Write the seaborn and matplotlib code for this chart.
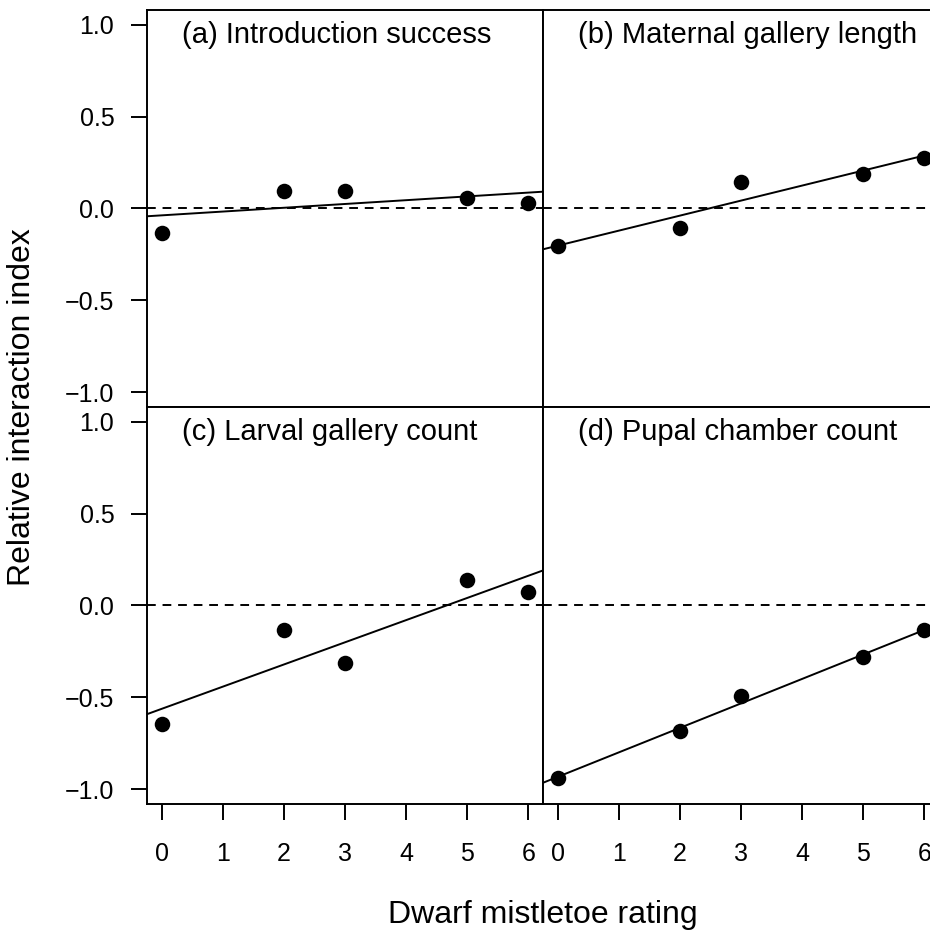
import numpy as np
import pandas as pd
import matplotlib
matplotlib.use("Agg")
import matplotlib.pyplot as plt
import seaborn as sns

# Dwarf mistletoe rating of the host trees
ratings = [0, 2, 3, 5, 6]

# Relative interaction index for each response
intro_success = [-0.132, 0.096, 0.094, 0.056, 0.029]
maternal_gallery = [-0.205, -0.105, 0.143, 0.186, 0.277]
larval_gallery = [-0.647, -0.136, -0.312, 0.141, 0.072]
pupal_chamber = [-0.940, -0.683, -0.490, -0.283, -0.135]

panel_titles = [
    "(a) Introduction success",
    "(b) Maternal gallery length",
    "(c) Larval gallery count",
    "(d) Pupal chamber count",
]
x_ticks = [0, 1, 2, 3, 4, 5, 6]
y_ticks = [-1.0, -0.5, 0.0, 0.5, 1.0]

responses = [intro_success, maternal_gallery, larval_gallery, pupal_chamber]
frames = []
for title, vals in zip(panel_titles, responses):
    frames.append(pd.DataFrame({"rating": ratings, "rii": vals, "panel": title}))
df = pd.concat(frames, ignore_index=True)

sns.set_theme(style="ticks")
plt.rcParams["font.family"] = ["Liberation Sans", "DejaVu Sans"]
plt.rcParams["text.color"] = "black"

fig = plt.figure(figsize=(9.3, 9.33), dpi=100)

w, h = 0.4258, 0.4255
lefts = [0.158, 0.5839]
bottoms = [0.5638, 0.1383]

lw = 1.4
tick_fs = 18
title_fs = 21
label_fs = 23
for i, title in enumerate(panel_titles):
    row, col = divmod(i, 2)
    ax = fig.add_axes([lefts[col], bottoms[row], w, h])
    ax.set_xlim(-0.24, 6.24)
    ax.set_ylim(-1.08, 1.08)
    ax.axhline(0, color="black", lw=lw, ls=(0, (4.5, 3.5)), zorder=1)
    sub = df[df["panel"] == title]
    sns.regplot(
        data=sub, x="rating", y="rii", ax=ax, ci=None, truncate=False,
        color="black",
        scatter_kws={"s": 125, "linewidths": 0, "alpha": 1, "zorder": 3},
        line_kws={"lw": lw, "zorder": 2},
    )
    ax.set_xlim(-0.24, 6.24)
    ax.set_ylim(-1.08, 1.08)
    ax.set_xlabel("")
    ax.set_ylabel("")
    for s in ax.spines.values():
        s.set_visible(True)
        s.set_linewidth(lw)
        s.set_color("black")
    ax.tick_params(direction="out", length=11.5, width=lw, color="black",
                   labelsize=tick_fs, labelcolor="black")
    ax.tick_params(axis="x", pad=16)
    ax.tick_params(axis="y", pad=12)
    ax.set_xticks(x_ticks)
    ax.set_yticks(y_ticks)
    if row == 1:
        ax.set_xticklabels([str(t) for t in x_ticks])
    else:
        ax.tick_params(axis="x", bottom=False, labelbottom=False)
    if col == 0:
        ax.set_yticklabels([f"{t:.1f}".replace("-", "\u2212") for t in y_ticks])
    else:
        ax.tick_params(axis="y", left=False, labelleft=False)
    ax.text(0.0876, 1 - 33.0 / 397, title, transform=ax.transAxes,
            ha="left", va="baseline", fontsize=title_fs, color="black")

fig.text(0.5839, 1 - 915 / 933, "Dwarf mistletoe rating", ha="center",
         va="center", fontsize=label_fs, color="black")
fig.text(22 / 930, 1 - 407 / 933, "Relative interaction index", ha="center",
         va="center", rotation=90, fontsize=label_fs, color="black")

fig.savefig("out.png", dpi=100)
